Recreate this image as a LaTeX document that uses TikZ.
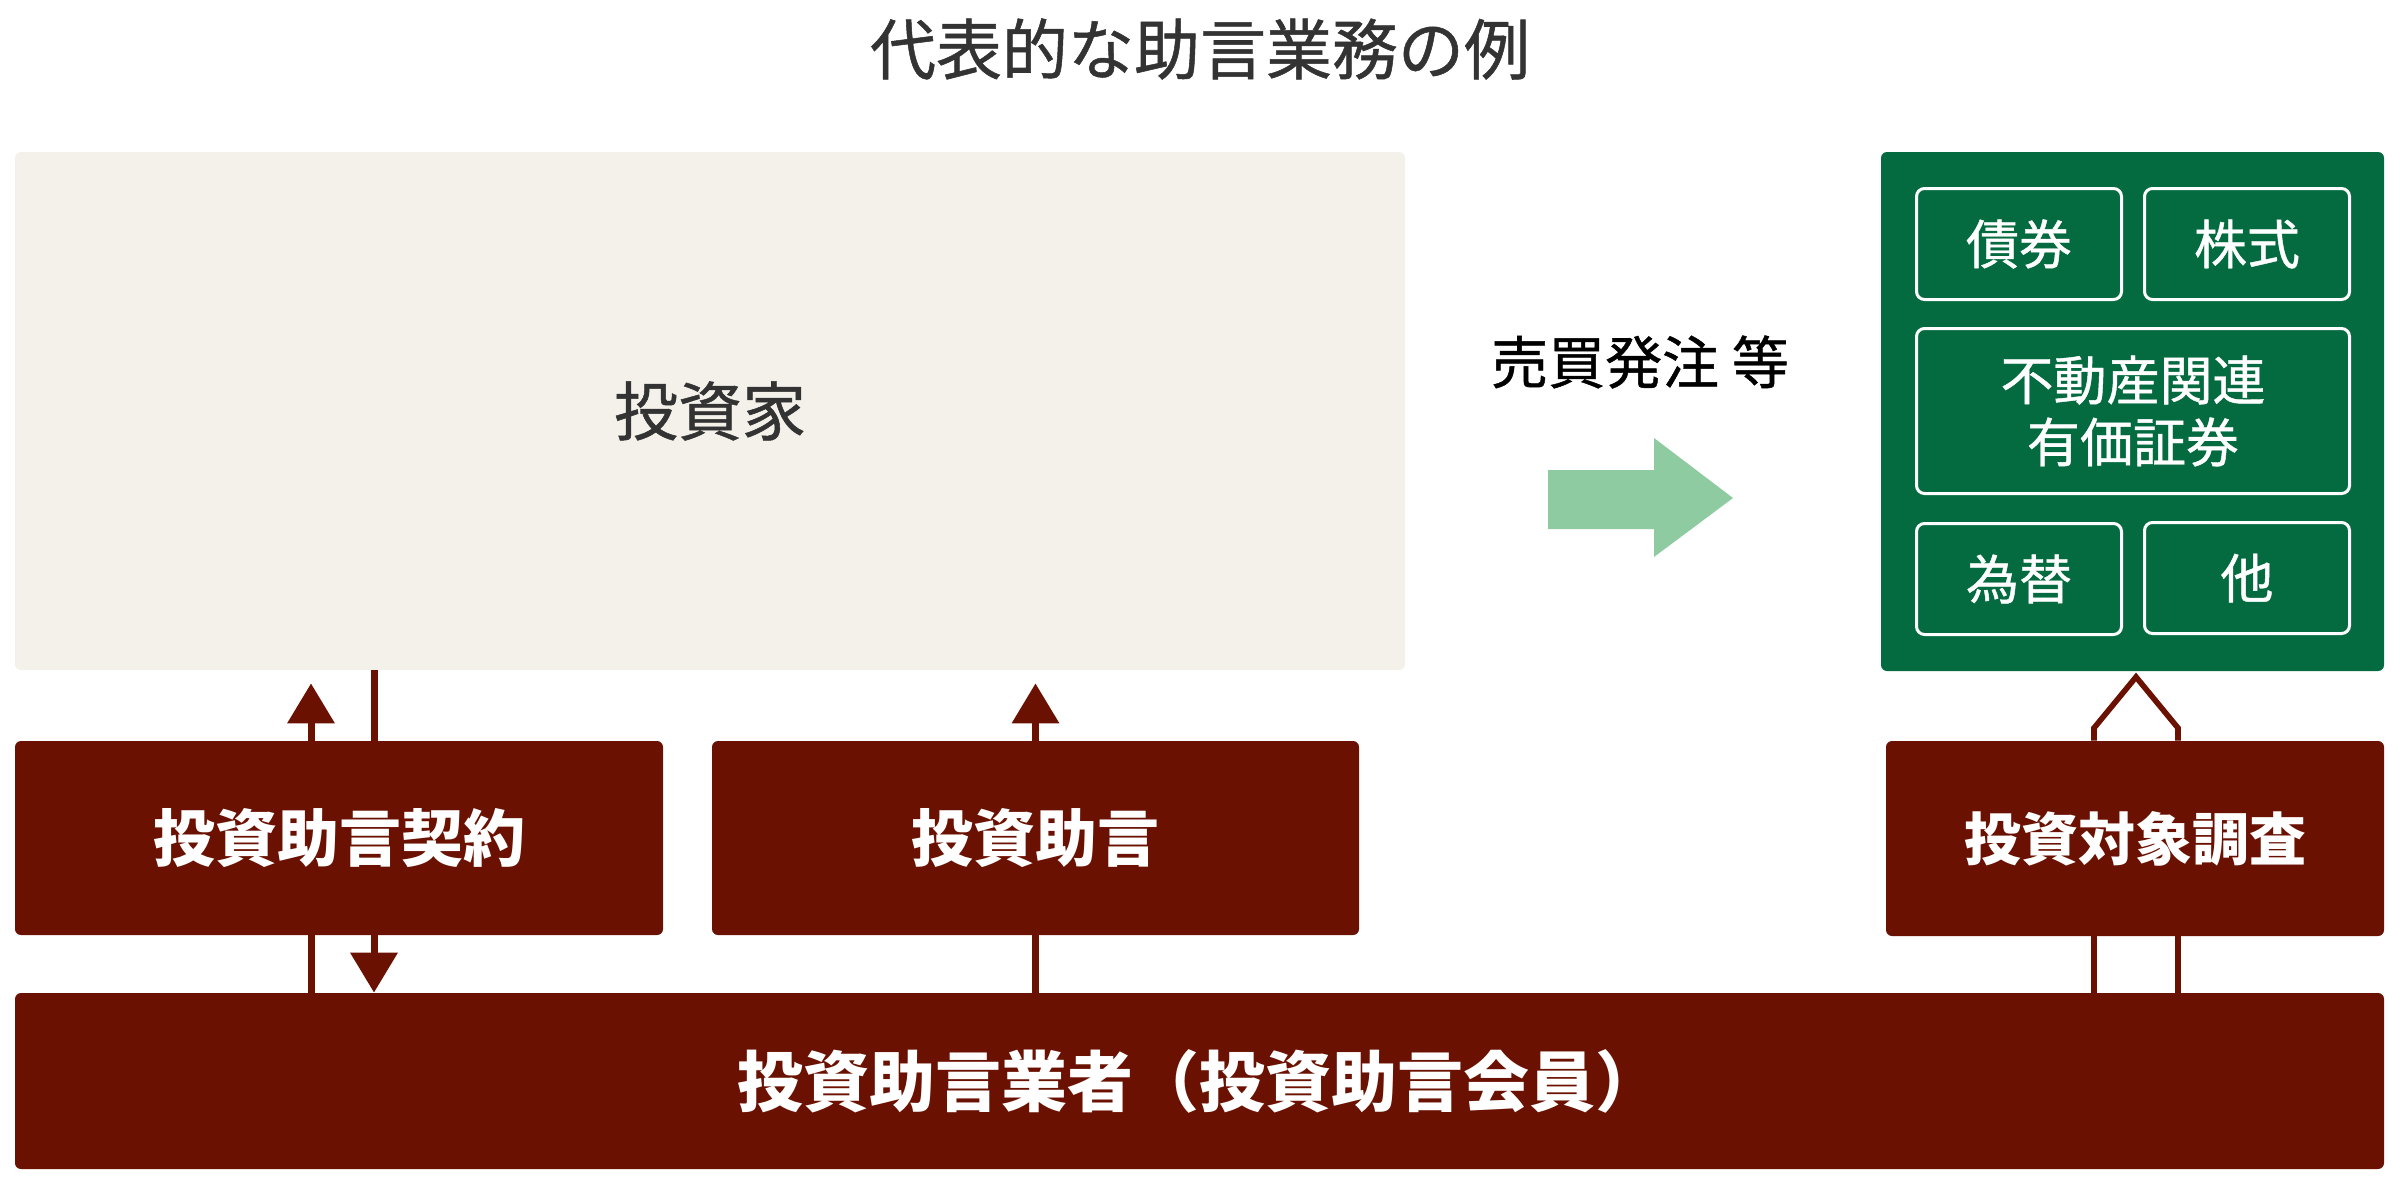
\documentclass[tikz,border=0pt]{standalone}
\usepackage{fontspec}
\usepackage{tikz}
\usetikzlibrary{arrows.meta}
\newfontfamily\jpfont{Noto Sans CJK JP}
\newfontfamily\jpmed[FakeBold=0.8]{Noto Sans CJK JP}
\definecolor{advred}{HTML}{6A1102}
\definecolor{secgreen}{HTML}{036B3F}
\definecolor{invbeige}{HTML}{F3F1EA}
\definecolor{ordgreen}{HTML}{8ECBA0}
\definecolor{txtgray}{HTML}{333333}

\begin{document}
\begin{tikzpicture}[x=0.5pt,y=0.5pt,yscale=-1,xscale=1,
  redbox/.style={fill=advred, rounded corners=3pt, text=white, inner sep=0pt, minimum height=97pt, font=\jpfont\bfseries\fontsize{31}{36}\selectfont},
  itembox/.style={draw=white, line width=1.5pt, rounded corners=4pt, text=white, align=center, minimum width=102.5pt, minimum height=55.5pt, font=\jpmed\fontsize{26.5}{31}\selectfont},
  link/.style={draw=advred, line width=3.5pt},
  flow/.style={link, -{Triangle[length=20pt,width=23pt]}},
  outline/.style={draw=advred, line width=2.8pt, line join=miter}]
\useasboundingbox (0,0) rectangle (2400,1184);

% Text Node
\node (title) at (1200,49) [text=txtgray, font=\jpmed\fontsize{33}{40}\selectfont] {代表的な助言業務の例};

%Rounded Rect
\node (inv) at (710,411) [fill=invbeige, rounded corners=3pt, minimum width=695pt, minimum height=259pt, text=txtgray, font=\jpmed\fontsize{32}{38}\selectfont] {投資家};

%Rounded Rect
\node (sec) at (2132.5,411.5) [fill=secgreen, rounded corners=3pt, minimum width=251.5pt, minimum height=259.5pt] {};
\node (bond) at (2019,244) [itembox] {債券};
\node (stock) at (2247,244) [itembox] {株式};
\node (estate) at (2133,411) [itembox, minimum width=216.5pt, minimum height=82.5pt] {不動産関連\\有価証券};
\node (fx) at (2019,579) [itembox] {為替};
\node (other) at (2247,578) [itembox] {他};

% Text Node
\node (order) at (1640,362) [font=\jpmed\fontsize{28.5}{34}\selectfont] {売買発注 等};
%Right Arrow
\fill[ordgreen] (1548,470) -- (1654,470) -- (1654,438) -- (1733,498) -- (1654,557) -- (1654,529) -- (1548,529) -- cycle;

%Rounded Rect
\node (contract) at (339,838) [redbox, minimum width=324pt] {投資助言契約};
\node (advice) at (1035.5,838) [redbox, minimum width=323.5pt] {投資助言};
\node (research) at (2135,838.5) [redbox, minimum width=249pt, minimum height=97.5pt, font=\jpfont\bfseries\fontsize{28.5}{34}\selectfont] {投資対象調査};
\node (firm) at (1199.5,1081) [redbox, minimum width=1184.5pt, minimum height=88pt, font=\jpfont\bfseries\fontsize{33}{40}\selectfont] {投資助言業者（投資助言会員）};

\coordinate (up1) at (311,0);
\coordinate (dn1) at (374,0);
\coordinate (rl) at (2094,728);
\coordinate (rp) at (2136,677);
\coordinate (rr) at (2178,728);

%Straight Lines
\draw[link] (firm.north -| up1) -- (contract.south -| up1);
\draw[flow, shorten >=6.5pt] (contract.north -| up1) -- (inv.south -| up1);
\draw[link] (inv.south -| dn1) -- (contract.north -| dn1);
\draw[flow] (contract.south -| dn1) -- (firm.north -| dn1);
\draw[link] (firm.north -| advice) -- (advice.south);
\draw[flow, shorten >=6.5pt] (advice.north) -- (inv.south -| advice);

%Shape: Up Arrow outline
\draw[outline] (firm.north -| rl) -- (research.south -| rl);
\draw[outline] (firm.north -| rr) -- (research.south -| rr);
\draw[outline] (research.north -| rl) -- (rl) -- (rp) -- (rr) -- (research.north -| rr);

\end{tikzpicture}
\end{document}
